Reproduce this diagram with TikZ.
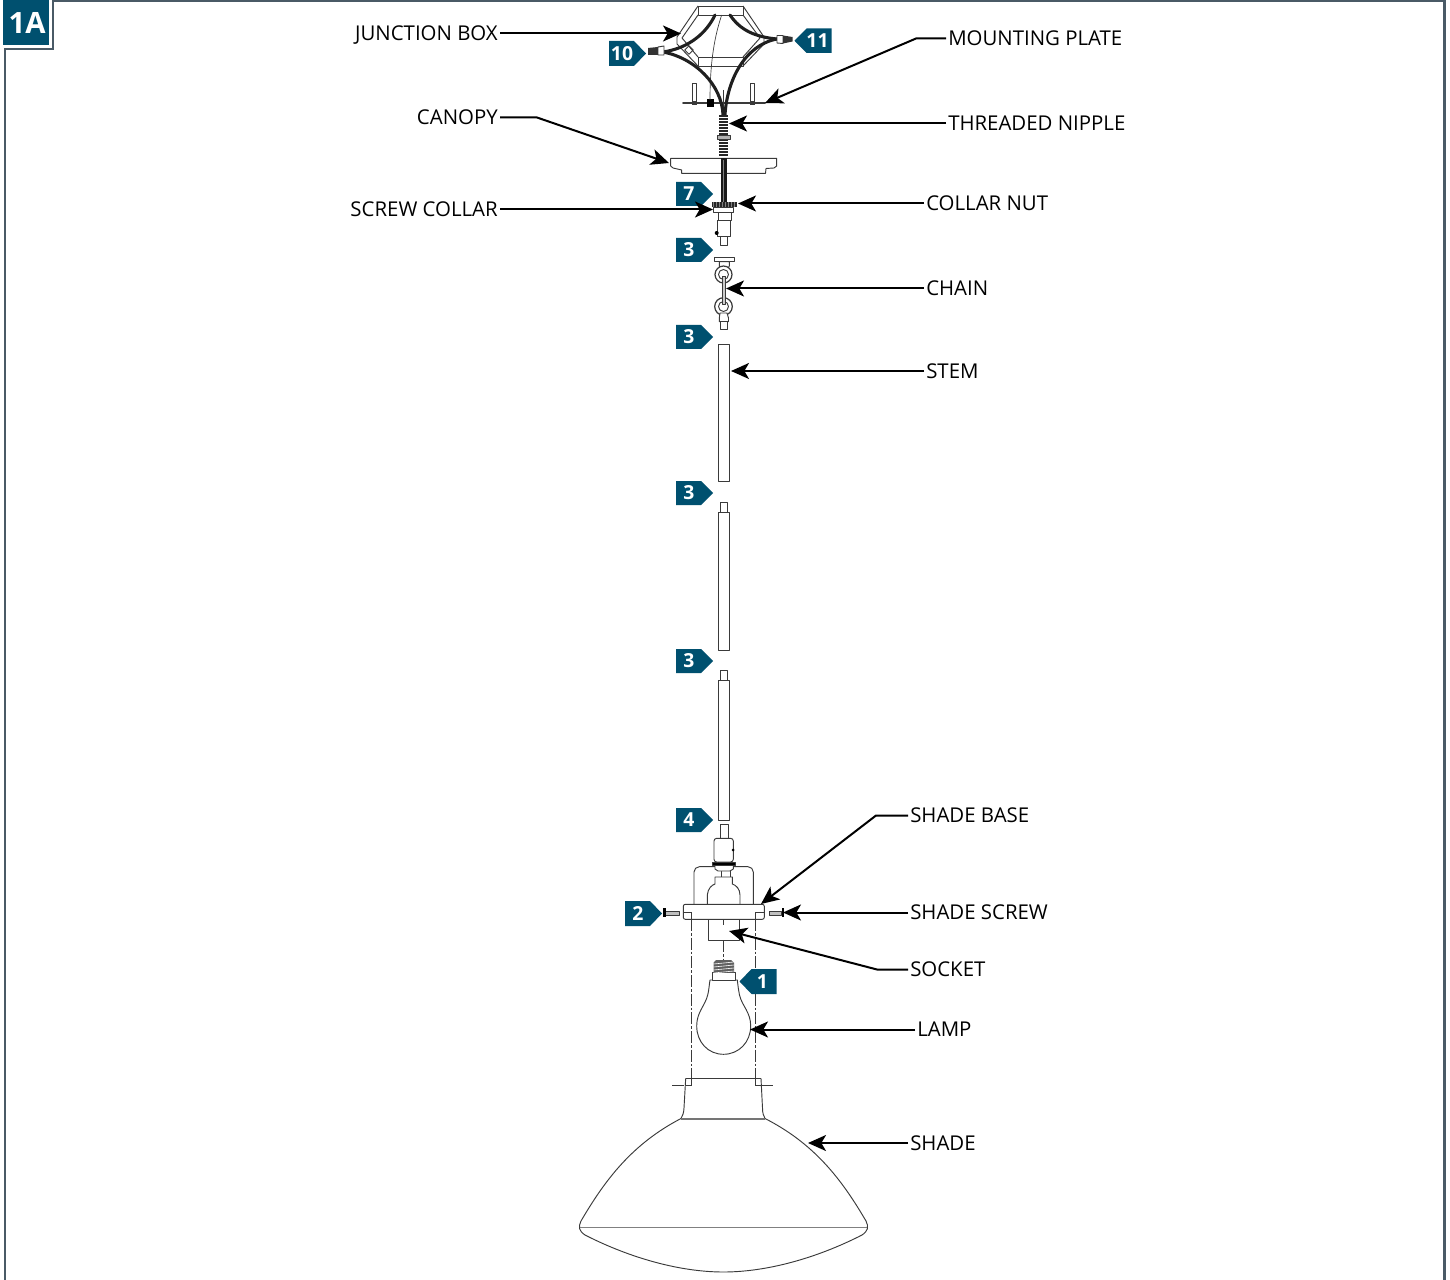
\documentclass[tikz,border=0pt]{standalone}
\usepackage{fontspec}
\setmainfont{Open Sans}
\usetikzlibrary{arrows.meta}
\definecolor{teal}{HTML}{00506F}
\definecolor{framec}{HTML}{4A5A66}
\definecolor{partc}{HTML}{3A3A3A}
\tikzset{
  x=0.75pt,y=-0.75pt,
  lbl/.style={inner sep=1.5pt,text height=11pt,text depth=0pt,font=\fontsize{15.3}{17}\selectfont,text=black},
  lblE/.style={lbl,anchor=east},
  lblW/.style={lbl,anchor=west},
  ptr/.style={line width=1.5pt,draw=black,-{Stealth[length=13.5pt,width=12pt,inset=3.5pt]}},
  part/.style={draw=partc,line width=0.7pt,fill=white,line join=round},
  thin part/.style={draw=partc,line width=0.5pt},
  wire/.style={draw=black!88,line width=2.3pt,line cap=round},
  cl/.style={draw=partc,line width=0.7pt,dash pattern=on 9pt off 1.5pt on 2pt off 1.5pt},
  badgetext/.style={text=white,font=\bfseries\fontsize{14.5}{16}\selectfont,inner sep=0pt},
}
\newcommand{\badgeR}[5]{% name, x1, ytop, ybot, text
  \fill[teal] (#2,#3) -- ({#2+25},#3) -- ({#2+37},{(#3+#4)/2}) -- ({#2+25},#4) -- (#2,#4) -- cycle;
  \node[badgetext] (#1) at ({#2+13},{(#3+#4)/2}) {#5};}
\newcommand{\badgeL}[5]{% name, x2, ytop, ybot, text
  \fill[teal] (#2,#3) -- ({#2-25},#3) -- ({#2-37},{(#3+#4)/2}) -- ({#2-25},#4) -- (#2,#4) -- cycle;
  \node[badgetext] (#1) at ({#2-14},{(#3+#4)/2}) {#5};}
\begin{document}
\begin{tikzpicture}
\useasboundingbox (0,0) rectangle (1450,1280);
\fill[white] (0,0) rectangle (1450,1280);
% frame
\draw[framec,line width=1.6pt] (1444.5,1280) -- (1444.5,1.2) -- (53,1.2) -- (53,49) -- (5,49) -- (5,1280);
\fill[teal] (3,0) rectangle (49,45);
\node[text=white,font=\bfseries\fontsize{22}{24}\selectfont,inner sep=0pt] (tag) at (27,22.5) {1A};

% centre lines
\draw[cl] (691.7,919) -- (691.7,1078);
\draw[cl] (755.7,919) -- (755.7,1078);
\draw[cl] (723.3,940) -- (723.3,962);
\draw[cl] (672,1085) -- (686,1085);
\draw[cl] (761,1085) -- (775,1085);

% junction box
\draw[part,fill=none] (698,6) -- (743,6) -- (743,15) -- (698,15) -- cycle;
\draw[part,fill=none] (698,57) -- (743,57) -- (743,66) -- (698,66) -- cycle;
\draw[part,fill=none] (698,6) -- (677,37) -- (677,44) -- (698,66);
\draw[part,fill=none] (698,15) -- (682,38) -- (698,57);
\draw[part,fill=none] (743,6) -- (764,37) -- (764,44) -- (743,66);
\draw[part,fill=none] (743,15) -- (760,38) -- (743,57);
\draw[part,fill=none,rotate around={45:(689,50)}] (686,47) rectangle (692,53);
% mounting plate
\draw[part] (692.5,83) rectangle (696.5,103);
\draw[part] (750.5,83) rectangle (754.5,103);
\draw[draw=partc,line width=1.5pt,line cap=round] (683,103) -- (765,103);
\fill[partc] (692,101) rectangle (697,105.5);
\fill[partc] (750,101) rectangle (755,105.5);
\fill[black] (707,99) rectangle (714,107);
% wires
\draw[thin part] (721.7,15) .. controls (715,35) and (710,60) .. (710,100);
\draw[thin part] (723.5,90) -- (723.5,115);
\draw[wire] (663,52) .. controls (695,58) and (722,85) .. (723,115);
\draw[wire] (663,52) .. controls (690,48) and (707,32) .. (715,15);
\draw[wire] (777,39) .. controls (745,45) and (727,80) .. (725,115);
\draw[wire] (777,39) .. controls (755,37) and (740,30) .. (730,15);
% wire nuts
\fill[black!80] (648,48) -- (658,47) -- (658,55) -- (648,55) -- cycle;
\draw[part] (658,47) -- (664,46) -- (664,55) -- (658,55) -- cycle;
\draw[part] (777,35.5) -- (783,35.5) -- (783,43.5) -- (777,43) -- cycle;
\fill[black!80] (783,35.5) -- (792.5,37) -- (792.5,41.5) -- (783,43.5) -- cycle;
% canopy
\draw[part] (670.7,158.3) -- (776.7,158.3) -- (776.7,166) -- (774,168) -- (766,168.5) -- (765.5,173.3) -- (681.7,173.3) -- (681.7,170) -- (673,168) -- (670.7,166) -- cycle;
% nipple and cord
\fill[black!90] (720.5,158) rectangle (726.8,203);
\fill[black!85] (719.3,115) rectangle (728.3,157);
\foreach \yy in {117,120,...,156}{\draw[white,line width=0.25pt] (719.3,\yy) -- (728.3,\yy);}
\draw[gray,line width=0.3pt] (723.6,160) -- (723.6,202);
\draw[part,fill=gray!60] (717,135) rectangle (730.5,139);
% collar
\draw[part] (713.5,207) rectangle (733,212);
\draw[part] (718,212) rectangle (731,220);
\draw[part] (717.3,220) rectangle (730,236.7);
\draw[part] (720,236.7) rectangle (727.7,245);
\fill[black] (716.7,233) circle (2);
\fill[black!85] (711.7,202.3) rectangle (736.7,207.3);
\foreach \xx in {713,716,...,736}{\draw[gray,line width=0.2pt] (\xx,202.3) -- (\xx,207.3);}
% chain
\draw[part] (714.3,257.3) rectangle (734,261.7);
\draw[part] (719.3,261.7) -- (729.3,261.7) -- (729.3,266) -- (727,270) -- (720,270) -- (719.3,266) -- cycle;
\draw[part,line width=0.9pt] (723.5,274.5) circle (8.5);
\draw[part] (723.5,274.5) circle (5);
\draw[part,line width=0.9pt] (723.5,306.5) circle (8.8);
\draw[part] (723.5,306.5) circle (5);
\draw[part,fill=gray!40] (722,276) rectangle (725.5,304);
\draw[part] (720,313) -- (727,313) -- (728.5,318) -- (728.5,321.7) -- (719.3,321.7) -- (719.3,318) -- cycle;
\draw[part] (720,321.7) rectangle (727.7,329.3);
% stems
\draw[part] (718,344) rectangle (729,481);
\draw[part] (720,502) rectangle (727.5,512);
\draw[part] (718,512) rectangle (729,650);
\draw[part] (720,670) rectangle (727.5,680);
\draw[part] (718,680) rectangle (729,820);
% socket assembly
\draw[part] (720,824) rectangle (728.3,838.3);
\draw[part,rounded corners=2pt] (714,838.3) -- (733.3,838.3) -- (733.3,862) -- (714,862) -- cycle;
\fill[black] (733,850) circle (1.5);
\draw[part,rounded corners=4pt,fill=none] (694,905) -- (694,866.7) -- (753.3,866.7) -- (753.3,905);
\draw[part] (721,870) rectangle (730,877);
\draw[part] (715,865) -- (733.3,865) -- (733.3,869) -- (730,871) -- (718,871) -- (715,869) -- cycle;
\draw[part,fill=black] (712.7,862) rectangle (735,865);
\draw[part] (707.3,905) -- (707.3,895) .. controls (708,888) and (712,885) .. (715,884) -- (715,877) -- (732.3,877) -- (732.3,884) .. controls (736,885) and (740,889) .. (740,895) -- (740,905) -- cycle;
\draw[part] (708.3,919) rectangle (739,940);
\draw[part,rounded corners=1.5pt] (683.3,904.3) rectangle (764.3,919.3);
\draw[thin part] (683.3,912.7) -- (691.7,912.7) -- (691.7,919.3);
\draw[thin part] (764.3,912.7) -- (755.7,912.7) -- (755.7,919.3);
\draw[thin part] (723.5,919.3) -- (723.5,925);
% shade screws
\draw[part,fill=gray!50] (665.7,911) rectangle (679,915);
\fill[black] (663.3,908.3) rectangle (665.9,917.3);
\draw[part,fill=gray!50] (769,911) rectangle (781.7,915);
\fill[black] (781.5,908.3) rectangle (784,917.3);
% lamp
\draw[part] (710,980) .. controls (709,986) and (709,990) .. (707.7,995) .. controls (705,1006) and (696.7,1012) .. (696.7,1026) .. controls (696.7,1042) and (708,1054.3) .. (723.5,1054.3) .. controls (739,1054.3) and (750.7,1042) .. (750.7,1026) .. controls (750.7,1012) and (742,1006) .. (739.5,995) .. controls (738.5,990) and (738,986) .. (737.3,980) -- cycle;
\draw[part] (712.5,972.7) rectangle (735,980);
\fill[partc!80] (713.5,962.7) -- (716,960) -- (731,960) -- (734,962.7) -- (734,972.7) -- (713.5,972.7) -- cycle;
\foreach \yy in {963,966,969,972}{\draw[white,line width=0.45pt] (713.5,\yy+1) -- (734,\yy-1);}
% shade
\draw[part,fill=none] (685.7,1078.3) -- (761,1078.3);
\draw[thin part] (685.7,1085) -- (691.7,1085) -- (691.7,1078.3);
\draw[thin part] (761,1085) -- (755.7,1085) -- (755.7,1078.3);
\draw[part,fill=none] (685.7,1078.3) -- (684,1108) .. controls (683.8,1113) and (682.5,1116) .. (681,1118.5) .. controls (632,1144) and (605,1180) .. (581,1221) .. controls (578,1227) and (579,1231) .. (585,1235) .. controls (630,1258) and (680,1272) .. (723.5,1272) .. controls (767,1272) and (817,1258) .. (862,1235) .. controls (868,1231) and (869,1227) .. (866,1221) .. controls (842,1180) and (815,1144) .. (765,1118.5) .. controls (763.5,1116) and (762.5,1113) .. (762.5,1108) -- (761,1078.3);
\draw[partc!70,line width=0.8pt] (681,1119) -- (765,1119);
\draw[gray,line width=1.1pt] (580,1227.7) -- (867,1227.7);

% badges
\badgeR{b7}{676}{182}{206}{7}
\badgeR{b3a}{676}{238}{262}{3}
\badgeR{b3b}{676}{325}{349}{3}
\badgeR{b3c}{676}{481}{505}{3}
\badgeR{b3d}{676}{649}{673}{3}
\badgeR{b4}{676}{808}{832}{4}
\badgeR{b2}{625}{901}{926}{2}
\badgeR{b10}{609}{41}{66}{10}
\badgeL{b11}{831.5}{28.5}{53}{11}
\badgeL{b1}{776.5}{969}{994}{1}

% labels
\node[lblE] (ljb) at (500,33.5) {JUNCTION BOX};
\node[lblE] (lcan) at (500,117.5) {CANOPY};
\node[lblE] (lsc) at (500,209.5) {SCREW COLLAR};
\node[lblW] (lmp) at (946,38.5) {MOUNTING PLATE};
\node[lblW] (ltn) at (946,123.5) {THREADED NIPPLE};
\node[lblW] (lcn) at (924,203.5) {COLLAR NUT};
\node[lblW] (lch) at (924,288.5) {CHAIN};
\node[lblW] (lst) at (924,371) {STEM};
\node[lblW] (lsb) at (908,815.5) {SHADE BASE};
\node[lblW] (lss) at (908,912.5) {SHADE SCREW};
\node[lblW] (lso) at (908,969.5) {SOCKET};
\node[lblW] (lla) at (915,1029.5) {LAMP};
\node[lblW] (lsh) at (908,1143) {SHADE};

% targets
\coordinate (tjb) at (681,33.5);
\coordinate (tcan) at (669,163);
\coordinate (tsc) at (713,209.5);
\coordinate (tmp) at (765,103);
\coordinate (ttn) at (729,123.5);
\coordinate (tcn) at (738,203.5);
\coordinate (tch) at (726,288.5);
\coordinate (tst) at (731,371);
\coordinate (tsb) at (761,904);
\coordinate (tss) at (783,912.5);
\coordinate (tso) at (729,931);
\coordinate (tla) at (750,1029.5);
\coordinate (tsh) at (808,1143);

% leaders
\draw[ptr] (ljb.east) -- (tjb);
\draw[ptr] (lcan.east) -- (537,117.5) -- (tcan);
\draw[ptr] (lsc.east) -- (tsc);
\draw[ptr] (lmp.west) -- (916,38.5) -- (tmp);
\draw[ptr] (ltn.west) -- (ttn);
\draw[ptr] (lcn.west) -- (tcn);
\draw[ptr] (lch.west) -- (tch);
\draw[ptr] (lst.west) -- (tst);
\draw[ptr] (lsb.west) -- (876,815.5) -- (tsb);
\draw[ptr] (lss.west) -- (tss);
\draw[ptr] (lso.west) -- (877,969.5) -- (tso);
\draw[ptr] (lla.west) -- (tla);
\draw[ptr] (lsh.west) -- (tsh);
\end{tikzpicture}
\end{document}
